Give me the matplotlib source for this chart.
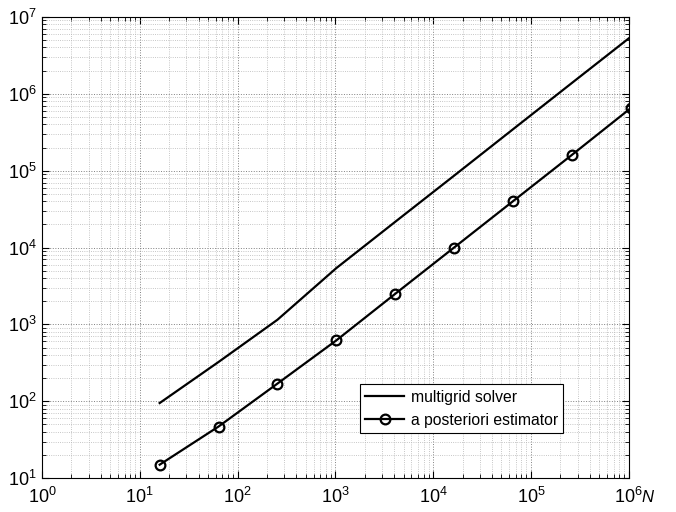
import numpy as np
import matplotlib
matplotlib.use("Agg")
import matplotlib.pyplot as plt

plt.rcParams["font.family"] = ["Liberation Sans", "DejaVu Sans"]
plt.rcParams["mathtext.fontset"] = "custom"
plt.rcParams["mathtext.rm"] = "Liberation Sans"
plt.rcParams["mathtext.it"] = "Liberation Sans:italic"

# degrees of freedom
N = [16, 64, 256, 1024, 4096, 16384, 65536, 262144, 1048576]
multigrid = [95, 325, 1150, 5400, 21600, 86000, 345000, 1380000, 5500000]
estimator = [15, 47, 170, 620, 2500, 10000, 40000, 160000, 650000]

fig = plt.figure(figsize=(6.76, 5.12), dpi=100)
ax = fig.add_axes([0.062, 0.066, 0.868, 0.901])

ax.loglog(N, multigrid, color="black", lw=1.6, label="multigrid solver")
ax.loglog(N, estimator, color="black", lw=1.6, marker="o", ms=7,
          mfc="none", mew=1.6, label="a posteriori estimator")

ax.set_xlim(1, 1e6)
ax.set_ylim(10, 1e7)

ax.grid(True, which="major", ls=":", color="#808080", lw=0.7)
ax.grid(True, which="minor", ls=":", color="#b4b4b4", lw=0.6)
ax.tick_params(which="both", direction="in", top=True, right=True, labelsize=13)
ax.tick_params(which="major", length=5)
ax.tick_params(which="minor", length=3)
ax.tick_params(axis="x", which="major", pad=6)
ax.tick_params(axis="y", which="major", pad=4)
for s in ax.spines.values():
    s.set_linewidth(0.8)

fig.text(0.958, 0.028, "N", style="italic", fontsize=12, ha="center", va="center")

leg = ax.legend(loc="lower left", bbox_to_anchor=(0.528, 0.081), fontsize=11.3,
                fancybox=False, framealpha=1, edgecolor="black",
                handlelength=2.5, borderpad=0.35, labelspacing=0.5,
                handletextpad=0.4)
leg.get_frame().set_linewidth(0.8)

fig.savefig("out.png", dpi=100)
